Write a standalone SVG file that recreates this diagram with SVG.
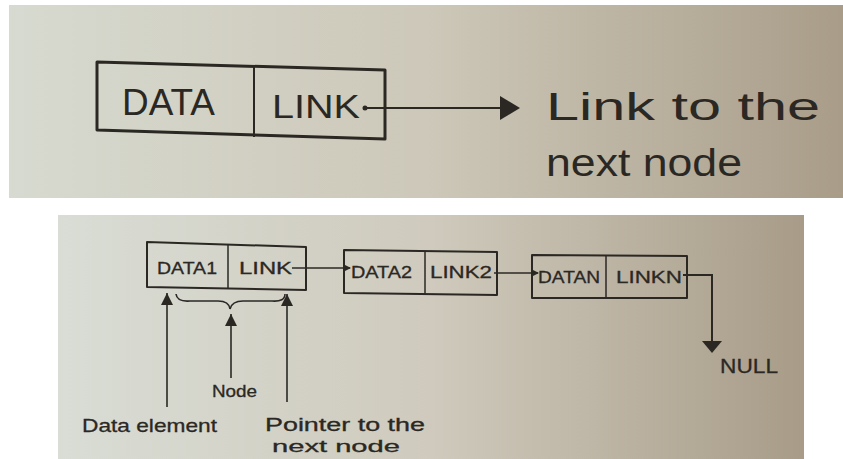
<svg xmlns="http://www.w3.org/2000/svg" width="843" height="459" viewBox="0 0 843 459">
  <defs>
    <linearGradient id="bgTop" x1="0" y1="0" x2="1" y2="0">
      <stop offset="0" stop-color="#d7dad0"/>
      <stop offset="0.5" stop-color="#cdc8b9"/>
      <stop offset="1" stop-color="#a99d89"/>
    </linearGradient>
    <linearGradient id="bgBot" x1="0" y1="0" x2="1" y2="0">
      <stop offset="0" stop-color="#d9ddd5"/>
      <stop offset="0.5" stop-color="#cfcabd"/>
      <stop offset="1" stop-color="#a89c88"/>
    </linearGradient>
    <marker id="ahSmall" markerWidth="8" markerHeight="8" refX="7" refY="4" orient="auto" markerUnits="userSpaceOnUse">
      <path d="M0,0 L8,4 L0,8 Z" fill="#2b2824"/>
    </marker>
    <marker id="ahUp" markerWidth="12" markerHeight="13" refX="12" refY="6" orient="auto" markerUnits="userSpaceOnUse">
      <path d="M0,0 L12,6 L0,12 Z" fill="#2b2824"/>
    </marker>
  </defs>
  <style>
    .box { fill: none; stroke: #2b2824; stroke-width: 3; stroke-linejoin: round; }
    .boxs { fill: none; stroke: #2b2824; stroke-width: 2; stroke-linejoin: round; }
    .div { stroke: #2b2824; stroke-width: 2; }
    .divs { stroke: #2b2824; stroke-width: 1.5; }
    .line { fill: none; stroke: #2b2824; stroke-width: 2; }
    .lines { fill: none; stroke: #2b2824; stroke-width: 1.6; }
    .head { fill: #2b2824; }
    .t { font-family: "Liberation Sans", "DejaVu Sans", sans-serif; fill: #2b2824; }
    .ts { stroke: #2b2824; stroke-width: 0.3; }
  </style>

  <rect width="843" height="459" fill="#ffffff"/>
  <rect x="9" y="5" width="834" height="193" fill="url(#bgTop)"/>
  <rect x="58" y="215" width="746" height="244" fill="url(#bgBot)"/>

  <!-- Top single node -->
  <g id="node-top">
    <polygon class="box" points="97,62 385,70 385,139 97,130"/>
    <line class="div" x1="254" y1="66" x2="254" y2="137"/>
    <text class="t" x="122" y="115" font-size="36" textLength="93" lengthAdjust="spacingAndGlyphs">DATA</text>
    <text class="t" x="272" y="118" font-size="34" textLength="88" lengthAdjust="spacingAndGlyphs">LINK</text>
  </g>
  <g id="label-top">
    <text class="t" x="546" y="120" font-size="38" textLength="274" lengthAdjust="spacingAndGlyphs">Link to the</text>
    <text class="t" x="546" y="176" font-size="38" textLength="196" lengthAdjust="spacingAndGlyphs">next node</text>
  </g>

  <!-- Bottom nodes -->
  <g id="node1">
    <polygon class="boxs" points="147,242 306,247 306,290 147,287"/>
    <line class="divs" x1="228" y1="244" x2="228" y2="288"/>
    <text class="t ts" x="157" y="274" font-size="17" textLength="60" lengthAdjust="spacingAndGlyphs">DATA1</text>
    <text class="t ts" x="239" y="274" font-size="17" textLength="53" lengthAdjust="spacingAndGlyphs">LINK</text>
  </g>
  <g id="node2">
    <polygon class="boxs" points="344,250 497,252 497,295 344,293"/>
    <line class="divs" x1="425" y1="251" x2="425" y2="294"/>
    <text class="t ts" x="351" y="278" font-size="17" textLength="61" lengthAdjust="spacingAndGlyphs">DATA2</text>
    <text class="t ts" x="430" y="278" font-size="17" textLength="62" lengthAdjust="spacingAndGlyphs">LINK2</text>
  </g>
  <g id="nodeN">
    <polygon class="boxs" points="532,255 687,256 687,298 532,298"/>
    <line class="divs" x1="606" y1="256" x2="606" y2="298"/>
    <text class="t ts" x="538" y="283" font-size="17" textLength="62" lengthAdjust="spacingAndGlyphs">DATAN</text>
    <text class="t ts" x="616" y="283" font-size="17" textLength="66" lengthAdjust="spacingAndGlyphs">LINKN</text>
  </g>

  <g id="labels-bottom">
    <text class="t ts" x="720" y="373" font-size="20" textLength="58" lengthAdjust="spacingAndGlyphs">NULL</text>
    <text class="t ts" x="212" y="397" font-size="16" textLength="45" lengthAdjust="spacingAndGlyphs">Node</text>
    <text class="t ts" x="82" y="432" font-size="19" textLength="135" lengthAdjust="spacingAndGlyphs">Data element</text>
    <text class="t ts" x="265" y="431" font-size="18" textLength="160" lengthAdjust="spacingAndGlyphs">Pointer to the</text>
    <text class="t ts" x="272" y="452" font-size="17" textLength="128" lengthAdjust="spacingAndGlyphs">next node</text>
  </g>

  <!-- Connectors -->
  <g id="connectors">
    <!-- top -->
    <circle class="head" cx="365" cy="108" r="2.5"/>
    <line class="line" x1="365" y1="108" x2="502" y2="108"/>
    <polygon class="head" points="500,96 520,108 500,120"/>
    <!-- node1 -> node2 -->
    <line class="lines" x1="292" y1="268" x2="350" y2="268" marker-end="url(#ahSmall)"/>
    <!-- node2 -> nodeN -->
    <line class="lines" x1="494" y1="273" x2="538" y2="273" marker-end="url(#ahSmall)"/>
    <!-- nodeN -> NULL -->
    <polyline class="line" points="683,275 712,275 712,344"/>
    <polygon class="head" points="702,341 722,341 712,353"/>
    <!-- brace -->
    <path class="lines" d="M176,294 Q177,302 190,301 L218,301 Q229,301 230,309 Q232,301 243,301 L272,301 Q285,302 285,294"/>
    <!-- up arrows -->
    <line class="lines" x1="167" y1="407" x2="167" y2="293" marker-end="url(#ahUp)"/>
    <line class="lines" x1="231" y1="378" x2="231" y2="314" marker-end="url(#ahUp)"/>
    <line class="lines" x1="287" y1="402" x2="287" y2="294" marker-end="url(#ahUp)"/>
  </g>
</svg>
